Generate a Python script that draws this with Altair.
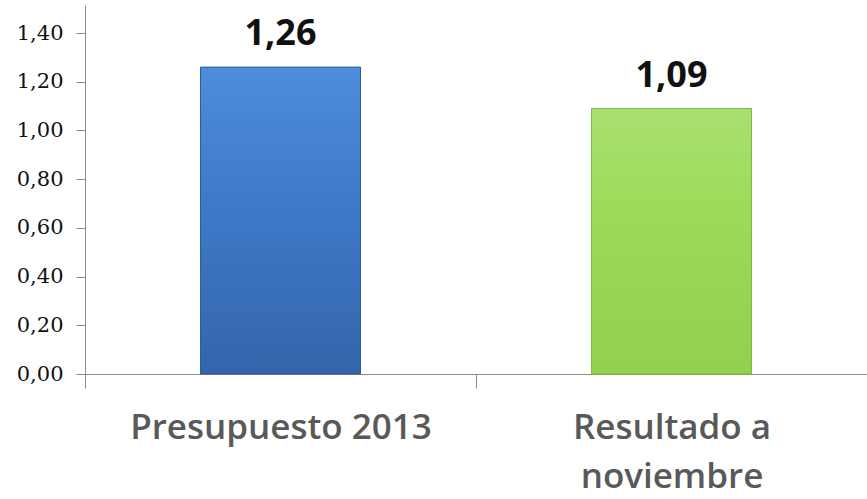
import altair as alt
import pandas as pd

categories = ["Presupuesto  2013", "Resultado a\nnoviembre"]
values = [1.26, 1.09]
y_ticks = [0.0, 0.2, 0.4, 0.6, 0.8, 1.0, 1.2, 1.4]

df = pd.DataFrame({"cat": categories, "val": values})

x_enc = alt.X("cat:N", sort=categories, title=None,
              scale=alt.Scale(paddingInner=0, paddingOuter=0),
              axis=alt.Axis(labelAngle=0, labelFont="Open Sans", labelFontSize=35,
                            labelFontWeight=600,
                            labelColor="#595959", labelLineHeight=49, labelLimit=0,
                            labelExpr="isValid(datum.value) ? split(datum.value, '\\n') : ''",
                            tickBand="extent", tickSize=14, tickColor="#8c8c8c",
                            domainColor="#8c8c8c", labelPadding=22,
                            labelBaseline="top"))
y_enc = alt.Y("val:Q", title=None,
              scale=alt.Scale(domain=[0, 1.515], nice=False),
              axis=alt.Axis(values=y_ticks, grid=False,
                            labelExpr="replace(format(datum.value, '.2f'), '.', ',')",
                            labelFont="DejaVu Serif", labelFontSize=21, labelColor="#111111",
                            tickSize=9, tickColor="#8c8c8c", domainColor="#8c8c8c",
                            labelPadding=13))

base = alt.Chart(df).encode(x=x_enc, y=y_enc)

blue = base.transform_filter(alt.datum.cat == categories[0]).mark_bar(
    size=160, stroke="#2f5d9c", strokeWidth=1,
    color=alt.Gradient(gradient="linear", x1=0, x2=0, y1=0, y2=1,
                       stops=[alt.GradientStop(color="#4d8ddb", offset=0),
                              alt.GradientStop(color="#3f7bcb", offset=0.4),
                              alt.GradientStop(color="#3465ab", offset=1)]))
green = base.transform_filter(alt.datum.cat == categories[1]).mark_bar(
    size=160, stroke="#7fb845", strokeWidth=1,
    color=alt.Gradient(gradient="linear", x1=0, x2=0, y1=0, y2=1,
                       stops=[alt.GradientStop(color="#a8e06e", offset=0),
                              alt.GradientStop(color="#9bdb59", offset=0.4),
                              alt.GradientStop(color="#92d04f", offset=1)]))

text = base.transform_calculate(
    lbl="replace(format(datum.val, '.2f'), '.', ',')"
).mark_text(font="Open Sans", fontSize=36, fontWeight="bold", color="#111111",
            baseline="alphabetic", dy=-22).encode(text="lbl:N")

chart = alt.layer(blue, green, text).properties(
    width=782, height=369,
    background="white",
    autosize=alt.AutoSizeParams(type="none"),
    padding={"left": 85, "top": 5, "right": 0, "bottom": 125},
).configure_view(stroke=None, strokeWidth=0)

chart.save("out.html", embed_options={"renderer": "svg", "actions": False})
